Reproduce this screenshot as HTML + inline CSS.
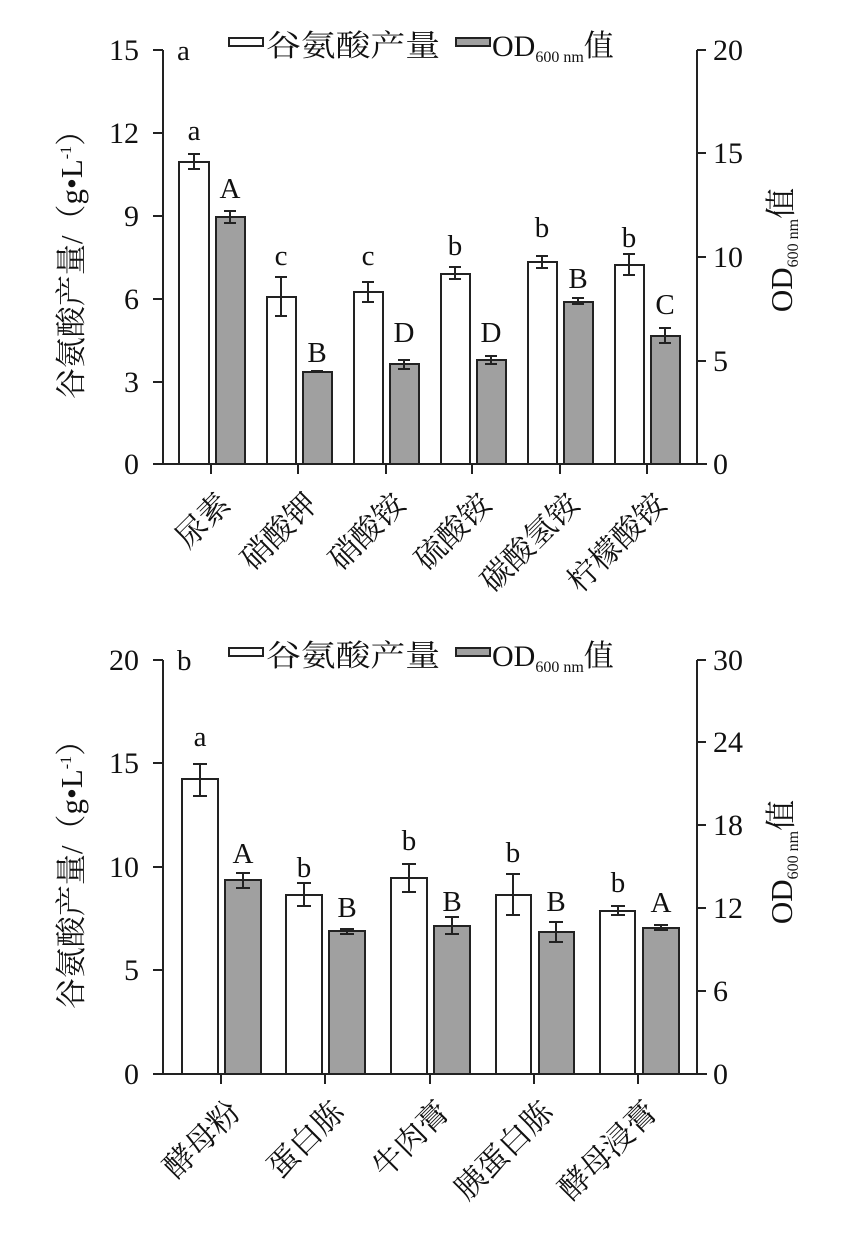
<!DOCTYPE html>
<html><head><meta charset="utf-8"><style>
html,body{margin:0;padding:0;background:#fff;}
svg{display:block;}
text{font-family:"Liberation Serif","Noto Serif CJK SC","Noto Sans CJK SC",serif;fill:#111;}
</style></head><body>
<svg width="848" height="1236" viewBox="0 0 848 1236" xmlns="http://www.w3.org/2000/svg">
<g stroke="#222" stroke-width="2" fill="none">
<line x1="163" y1="50" x2="163" y2="464"/>
<line x1="697" y1="50" x2="697" y2="464"/>
<line x1="153" y1="464" x2="707" y2="464"/>
<line x1="153" y1="50" x2="163" y2="50"/><line x1="153" y1="133" x2="163" y2="133"/><line x1="153" y1="216" x2="163" y2="216"/><line x1="153" y1="299" x2="163" y2="299"/><line x1="153" y1="382" x2="163" y2="382"/>
<line x1="697" y1="50" x2="706" y2="50"/><line x1="697" y1="153" x2="706" y2="153"/><line x1="697" y1="257" x2="706" y2="257"/><line x1="697" y1="361" x2="706" y2="361"/>
<line x1="211" y1="464" x2="211" y2="474"/><line x1="298" y1="464" x2="298" y2="474"/><line x1="386" y1="464" x2="386" y2="474"/><line x1="472" y1="464" x2="472" y2="474"/><line x1="560" y1="464" x2="560" y2="474"/><line x1="647" y1="464" x2="647" y2="474"/>
<line x1="163" y1="660" x2="163" y2="1074"/>
<line x1="697" y1="660" x2="697" y2="1074"/>
<line x1="153" y1="1074" x2="707" y2="1074"/>
<line x1="153" y1="660" x2="163" y2="660"/><line x1="153" y1="763" x2="163" y2="763"/><line x1="153" y1="867" x2="163" y2="867"/><line x1="153" y1="970" x2="163" y2="970"/>
<line x1="697" y1="660" x2="706" y2="660"/><line x1="697" y1="742" x2="706" y2="742"/><line x1="697" y1="825" x2="706" y2="825"/><line x1="697" y1="908" x2="706" y2="908"/><line x1="697" y1="991" x2="706" y2="991"/>
<line x1="221" y1="1074" x2="221" y2="1084"/><line x1="325" y1="1074" x2="325" y2="1084"/><line x1="430" y1="1074" x2="430" y2="1084"/><line x1="534" y1="1074" x2="534" y2="1084"/><line x1="638" y1="1074" x2="638" y2="1084"/>
</g>
<g stroke="#222" stroke-width="2">
<rect x="179" y="162" width="30" height="302" fill="#fff"/><rect x="216" y="217" width="29" height="247" fill="#a0a0a0"/>
<rect x="267" y="297" width="29" height="167" fill="#fff"/><rect x="303" y="372" width="29" height="92" fill="#a0a0a0"/>
<rect x="354" y="292" width="29" height="172" fill="#fff"/><rect x="390" y="364" width="29" height="100" fill="#a0a0a0"/>
<rect x="441" y="274" width="29" height="190" fill="#fff"/><rect x="477" y="360" width="29" height="104" fill="#a0a0a0"/>
<rect x="528" y="262" width="29" height="202" fill="#fff"/><rect x="564" y="302" width="29" height="162" fill="#a0a0a0"/>
<rect x="615" y="265" width="29" height="199" fill="#fff"/><rect x="651" y="336" width="29" height="128" fill="#a0a0a0"/>
</g>
<g stroke="#222" stroke-width="2" fill="none">
<path d="M194 154V169M188 154H200M188 169H200"/>
<path d="M230 211V223M224 211H236M224 223H236"/>
<path d="M281 277V316M275 277H287M275 316H287"/>
<path d="M317 371V373M311 371H323"/>
<path d="M368 282V302M362 282H374M362 302H374"/>
<path d="M404 360V369M398 360H410M398 369H410"/>
<path d="M455 267V279M449 267H461M449 279H461"/>
<path d="M491 356V364M485 356H497M485 364H497"/>
<path d="M542 256V268M536 256H548M536 268H548"/>
<path d="M578 298V304M572 298H584M572 304H584"/>
<path d="M629 254V275M623 254H635M623 275H635"/>
<path d="M665 328V343M659 328H671M659 343H671"/>
</g>
<g stroke="#222" stroke-width="2">
<rect x="182" y="779" width="36" height="295" fill="#fff"/><rect x="225" y="880" width="36" height="194" fill="#a0a0a0"/>
<rect x="286" y="895" width="36" height="179" fill="#fff"/><rect x="329" y="931" width="36" height="143" fill="#a0a0a0"/>
<rect x="391" y="878" width="36" height="196" fill="#fff"/><rect x="434" y="926" width="36" height="148" fill="#a0a0a0"/>
<rect x="496" y="895" width="35" height="179" fill="#fff"/><rect x="539" y="932" width="35" height="142" fill="#a0a0a0"/>
<rect x="600" y="911" width="35" height="163" fill="#fff"/><rect x="643" y="928" width="36" height="146" fill="#a0a0a0"/>
</g>
<g stroke="#222" stroke-width="2" fill="none">
<path d="M200 764V796M193 764H207M193 796H207"/>
<path d="M243 873V888M236 873H250M236 888H250"/>
<path d="M304 883V906M297 883H311M297 906H311"/>
<path d="M347 929V934M340 929H354M340 934H354"/>
<path d="M409 864V892M402 864H416M402 892H416"/>
<path d="M452 917V934M445 917H459M445 934H459"/>
<path d="M513 874V915M506 874H520M506 915H520"/>
<path d="M556 922V942M549 922H563M549 942H563"/>
<path d="M618 906V915M611 906H625M611 915H625"/>
<path d="M661 925V930M654 925H668M654 930H668"/>
</g>
<g font-size="30" text-anchor="end">
<text x="139" y="60">15</text><text x="139" y="143">12</text><text x="139" y="226">9</text><text x="139" y="309">6</text><text x="139" y="392">3</text><text x="139" y="474">0</text>
<text x="139" y="670">20</text><text x="139" y="773">15</text><text x="139" y="877">10</text><text x="139" y="980">5</text><text x="139" y="1084">0</text>
</g>
<g font-size="30" text-anchor="start">
<text x="713" y="60">20</text><text x="713" y="163">15</text><text x="713" y="267">10</text><text x="713" y="371">5</text><text x="713" y="474">0</text>
<text x="713" y="670">30</text><text x="713" y="752">24</text><text x="713" y="835">18</text><text x="713" y="918">12</text><text x="713" y="1001">6</text><text x="713" y="1084">0</text>
</g>
<g font-size="29" text-anchor="middle">
<text x="194" y="140">a</text><text x="230" y="198">A</text>
<text x="281" y="265">c</text><text x="317" y="362">B</text>
<text x="368" y="265">c</text><text x="404" y="342">D</text>
<text x="455" y="255">b</text><text x="491" y="342">D</text>
<text x="542" y="237">b</text><text x="578" y="288">B</text>
<text x="629" y="247">b</text><text x="665" y="314">C</text>
<text x="200" y="746">a</text><text x="243" y="863">A</text>
<text x="304" y="877">b</text><text x="347" y="917">B</text>
<text x="409" y="850">b</text><text x="452" y="911">B</text>
<text x="513" y="862">b</text><text x="556" y="911">B</text>
<text x="618" y="892">b</text><text x="661" y="912">A</text>
</g>
<g font-size="29">
<text x="177" y="60">a</text>
<text x="177" y="670">b</text>
</g>
<g stroke="#222" stroke-width="2">
<rect x="229" y="38" width="34" height="8" fill="#fff"/><rect x="456" y="38" width="34" height="8" fill="#a0a0a0"/>
<rect x="229" y="648" width="34" height="8" fill="#fff"/><rect x="456" y="648" width="34" height="8" fill="#a0a0a0"/>
</g>
<g font-size="30">
<text x="266" y="56" textLength="174" lengthAdjust="spacingAndGlyphs">谷氨酸产量</text>
<text x="492" y="56">OD<tspan font-size="16" dy="6">600 nm</tspan><tspan dy="-6">值</tspan></text>
<text x="266" y="666" textLength="174" lengthAdjust="spacingAndGlyphs">谷氨酸产量</text>
<text x="492" y="666">OD<tspan font-size="16" dy="6">600 nm</tspan><tspan dy="-6">值</tspan></text>
</g>
<g font-size="31" text-anchor="middle">
<text transform="translate(82,257) rotate(-90)">谷氨酸产量/（g•L<tspan font-size="16" dy="-11">-1</tspan><tspan dy="11">）</tspan></text>
<text transform="translate(82,867) rotate(-90)">谷氨酸产量/（g•L<tspan font-size="16" dy="-11">-1</tspan><tspan dy="11">）</tspan></text>
<text transform="translate(792,250) rotate(-90)">OD<tspan font-size="16" dy="6">600 nm</tspan><tspan dy="-6">值</tspan></text>
<text transform="translate(792,862) rotate(-90)">OD<tspan font-size="16" dy="6">600 nm</tspan><tspan dy="-6">值</tspan></text>
</g>
<g font-size="31" text-anchor="end">
<text transform="translate(232,506) rotate(-45)">尿素</text>
<text transform="translate(319,506) rotate(-45)">硝酸钾</text>
<text transform="translate(407,506) rotate(-45)">硝酸铵</text>
<text transform="translate(493,506) rotate(-45)">硫酸铵</text>
<text transform="translate(581,506) rotate(-45)">碳酸氢铵</text>
<text transform="translate(668,506) rotate(-45)">柠檬酸铵</text>
<text transform="translate(242,1114) rotate(-45)">酵母粉</text>
<text transform="translate(346,1114) rotate(-45)">蛋白胨</text>
<text transform="translate(451,1114) rotate(-45)">牛肉膏</text>
<text transform="translate(555,1114) rotate(-45)">胰蛋白胨</text>
<text transform="translate(659,1114) rotate(-45)">酵母浸膏</text>
</g>
</svg>
</body></html>
